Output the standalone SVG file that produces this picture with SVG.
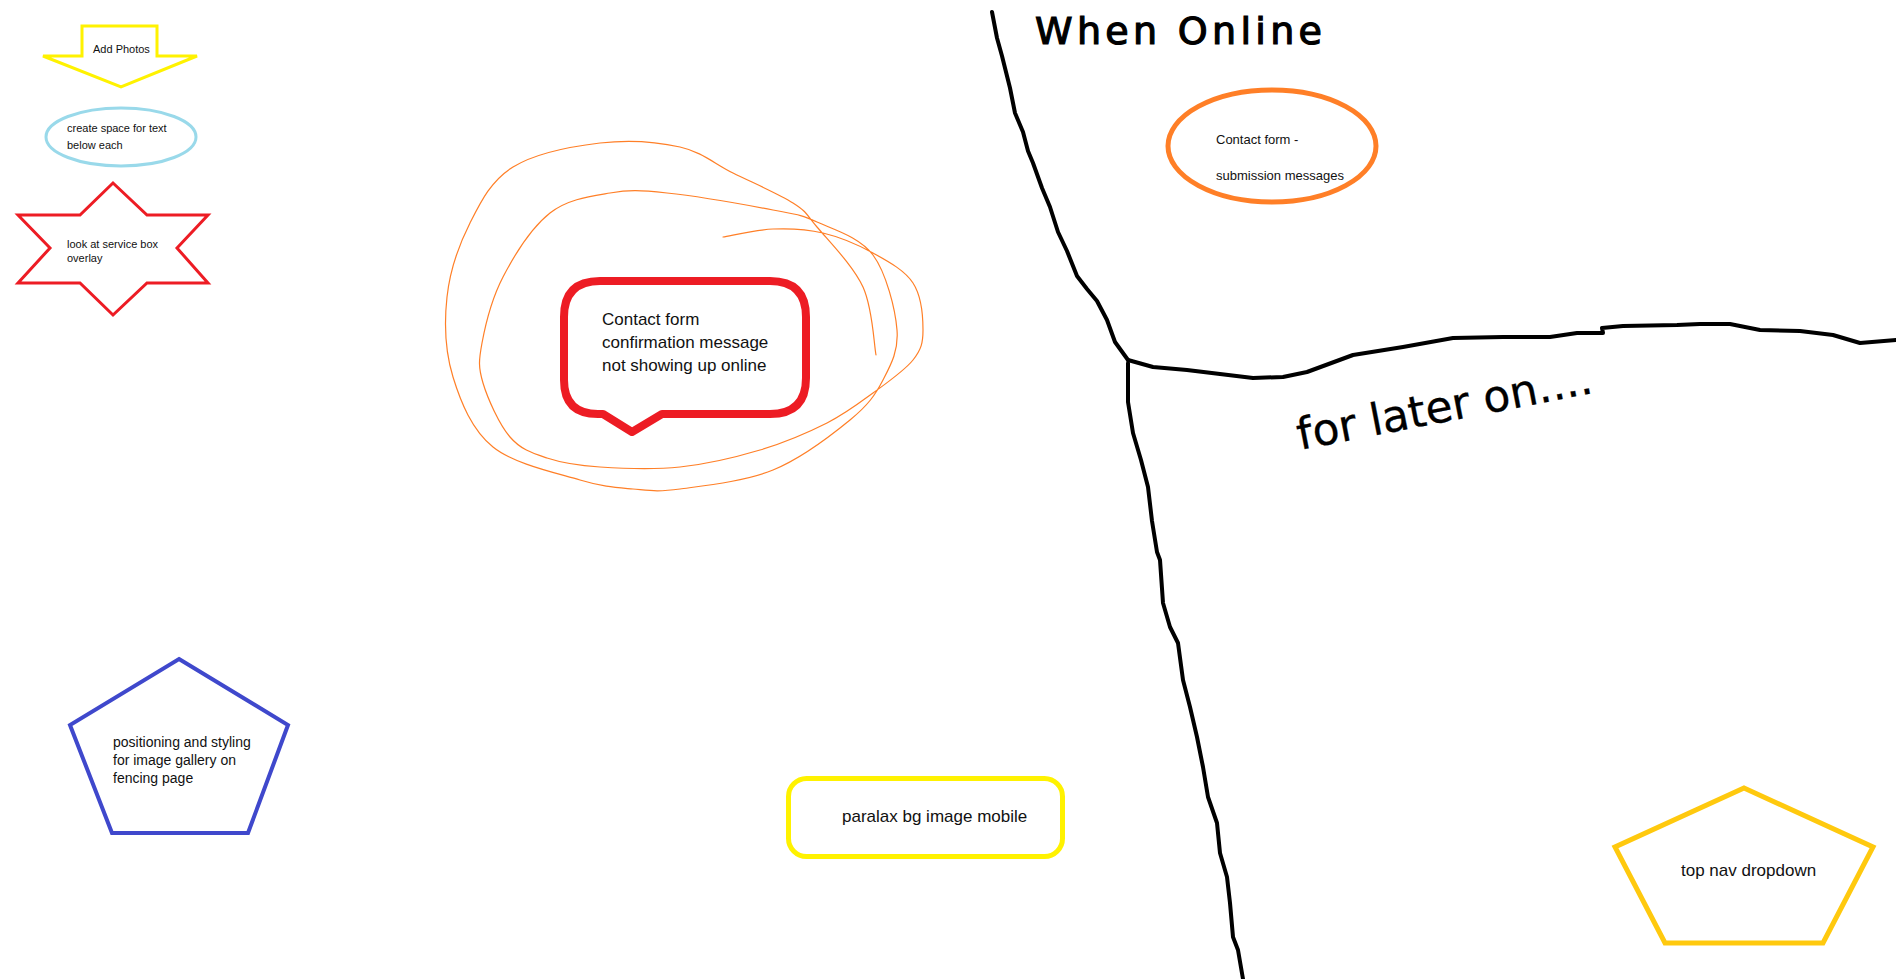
<svg xmlns="http://www.w3.org/2000/svg" width="1896" height="979" viewBox="0 0 1896 979">
<style>
.t{font-family:"Liberation Sans",Arial,sans-serif;fill:#111;}
.s11{font-size:11px;}
.hand{font-family:"DejaVu Sans",sans-serif;fill:#000;stroke:#000;}
.ink{fill:none;stroke:#000;stroke-width:4;stroke-linejoin:round;stroke-linecap:round;}
</style>
<rect width="1896" height="979" fill="#fff"/>

<g id="add-photos">
<path d="M82,26 H157 V56 H197 L121,87 L43,56 H82 Z" fill="#fff" stroke="#fff200" stroke-width="3"/>
<text class="t s11" x="93" y="53">Add Photos</text>
</g>

<g id="create-space">
<ellipse cx="121" cy="137" rx="75" ry="29" fill="#fff" stroke="#99d9ea" stroke-width="3"/>
<text class="t s11" x="67" y="132">create space for text</text>
<text class="t s11" x="67" y="149">below each</text>
</g>

<g id="service-box">
<polygon points="113,183 147,215 208,215 177,248 208,283 147,283 113,315 80,283 18,283 50,248 18,215 80,215" fill="#fff" stroke="#ed1c24" stroke-width="3"/>
<text class="t s11" x="67" y="248">look at service box</text>
<text class="t s11" x="67" y="262">overlay</text>
</g>

<g id="scribble">
<path fill="none" stroke="#ff7f27" stroke-width="1.2" stroke-linecap="round" d="M723,237 C731.3,235.7 756.3,229.7 773,229 C789.7,228.3 806.3,229 823,233 C839.7,237 858,244.7 873,253 C888,261.3 904.7,270.2 913,283 C921.3,295.8 923,317.2 923,330 C923,342.8 921.3,349.5 913,360 C904.7,370.5 887.3,382.5 873,393 C858.7,403.5 845.8,413.5 827,423 C808.2,432.5 784.5,442.7 760,450 C735.5,457.3 706.7,464.2 680,467 C653.3,469.8 622.2,468.5 600,467 C577.8,465.5 562,463 547,458 C532,453 520.7,449.5 510,437 C499.3,424.5 487.7,398.7 483,383 C478.3,367.3 478.7,360.7 482,343 C485.3,325.3 491.7,298.7 503,277 C514.3,255.3 532.2,227 550,213 C567.8,199 590.5,196.3 610,193 C629.5,189.7 639.8,190.2 667,193 C694.2,195.8 748,205.2 773,210 C798,214.8 800.3,214.5 817,222 C833.7,229.5 859.7,237 873,255 C886.3,273 895.3,309.2 897,330 C898.7,350.8 890.8,365 883,380 C875.2,395 868.3,405 850,420 C831.7,435 801.3,458.5 773,470 C744.7,481.5 703.3,485.8 680,489 C656.7,492.2 649.7,490.5 633,489 C616.3,487.5 603.3,487 580,480 C556.7,473 514.2,464.2 493,447 C471.8,429.8 460.7,402 453,377 C445.3,352 444.2,322.7 447,297 C449.8,271.3 459,244.7 470,223 C481,201.3 491.3,180.3 513,167 C534.7,153.7 572.2,146.3 600,143 C627.8,139.7 657.8,142 680,147 C702.2,152 714.2,163.7 733,173 C751.8,182.3 779,194 793,203 C807,212 805.3,213 817,227 C828.7,241 853.2,265.7 863,287 C872.8,308.3 873.8,343.7 876,355"/>
</g>

<g id="confirmation-bubble">
<path d="M600,281 H770 Q806,281 806,317 V378 Q806,414 770,414 H662 L632,432 L603,414 H598 Q564,414 564,380 V317 Q564,281 600,281 Z" fill="#fff" stroke="#ed1c24" stroke-width="8" stroke-linejoin="round"/>
<text class="t" font-size="17" x="602" y="325">Contact form</text>
<text class="t" font-size="17" x="602" y="348">confirmation message</text>
<text class="t" font-size="17" x="602" y="371">not showing up online</text>
</g>

<g id="gallery">
<polygon points="179,659 288,725 248,833 112,833 70,725" fill="#fff" stroke="#3f48cc" stroke-width="4"/>
<text class="t" font-size="14" x="113" y="747">positioning and styling</text>
<text class="t" font-size="14" x="113" y="765">for image gallery on</text>
<text class="t" font-size="14" x="113" y="783">fencing page</text>
</g>

<g id="paralax">
<rect x="788.5" y="778.5" width="274" height="78" rx="18" fill="#fff" stroke="#fff200" stroke-width="5"/>
<text class="t" font-size="17" x="842" y="822">paralax bg image mobile</text>
</g>

<g id="submission">
<ellipse cx="1272" cy="146" rx="104" ry="56" fill="#fff" stroke="#ff7f27" stroke-width="5"/>
<text class="t" font-size="13" x="1216" y="144">Contact form -</text>
<text class="t" font-size="13" x="1216" y="180">submission messages</text>
</g>

<g id="top-nav">
<polygon points="1744,788 1873,847 1823,943 1665,943 1615,847" fill="#fff" stroke="#ffc90e" stroke-width="5"/>
<text class="t" font-size="17" x="1681" y="876">top nav dropdown</text>
</g>

<g id="connectors">
<polyline class="ink" points="992,12 997,38 1002,56 1010,88 1015,113 1023,132 1028,151 1033,163 1042,188 1050,207 1058,232 1067,251 1077,276 1087,289 1097,301 1107,320 1115,342 1128,360"/>
<polyline class="ink" stroke-width="3.5" points="1128,360 1153,367 1187,370 1253,378 1283,377 1307,372 1353,355 1403,347 1453,338 1503,337 1550,337 1577,333 1603,333 1602,328 1623,326 1677,325 1700,324 1730,324 1760,330 1800,331 1833,335 1860,343 1896,340"/>
<polyline class="ink" points="1128,363 1128,402 1133,433 1141,460 1148,487 1152,521 1157,552 1160,560 1163,603 1170,627 1178,643 1183,680 1190,707 1197,737 1203,767 1208,797 1217,823 1220,853 1227,877 1230,903 1233,937 1238,950 1243,979"/>
</g>

<g id="labels">
<text class="hand" font-size="38" stroke-width="1.2" x="1035" y="44" textLength="287" lengthAdjust="spacing">When Online</text>
<text class="hand" font-size="44" stroke-width="0.3" x="1300" y="450" textLength="300" lengthAdjust="spacing" transform="rotate(-11 1300 450)">for later on....</text>
</g>
</svg>
